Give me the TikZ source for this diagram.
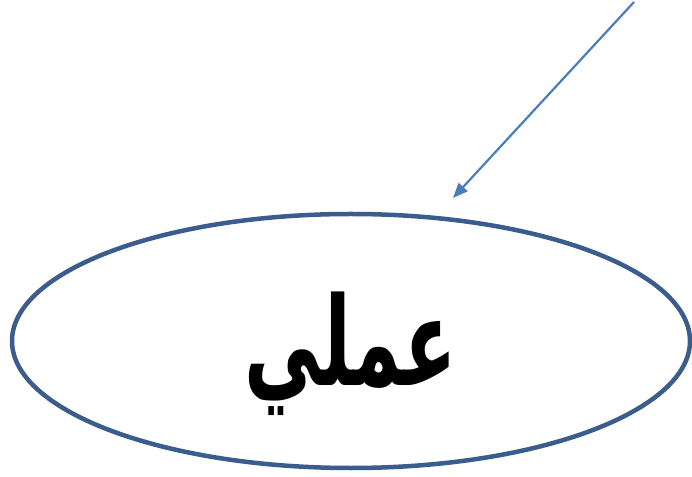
\documentclass[tikz,border=0pt]{standalone}
\usepackage{fontspec}
\usetikzlibrary{shapes.geometric,arrows.meta}
\TeXXeTstate=1
\newfontfamily\arabicfont[Script=Arabic]{DejaVu Sans}
\definecolor{ellblue}{HTML}{3A5D8E}
\definecolor{arrblue}{HTML}{4A7EBB}
\tikzset{
  oval/.style={ellipse, draw=ellblue, line width=4.5pt, minimum width=678pt, minimum height=254pt, inner sep=0pt},
  pointer/.style={draw=arrblue, line width=2.2pt, -{Triangle[length=15pt,width=12pt]}}
}
\begin{document}
\begin{tikzpicture}[x=1pt,y=1pt]
\useasboundingbox (0,0) rectangle (692,476);
\node[oval] (ell) at (351,135) {};
\node (lbl) at (351,122) {\scalebox{0.87}[1.4]{\fontsize{88}{88}\selectfont\arabicfont\bfseries\beginR عملي\endR}};
\coordinate (src) at (634,474);
\coordinate (dst) at (453,278);
\draw[pointer] (src) -- (dst);
\end{tikzpicture}
\end{document}
